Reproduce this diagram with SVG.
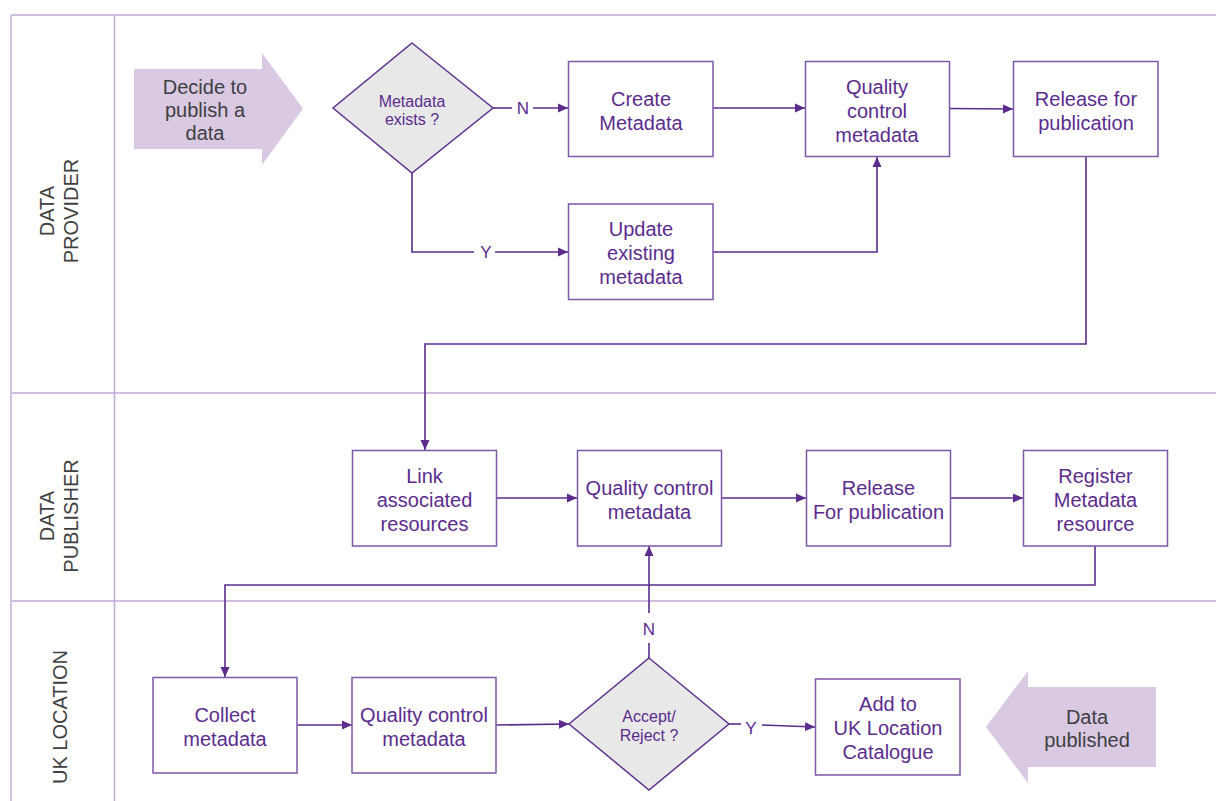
<svg xmlns="http://www.w3.org/2000/svg" width="1216" height="801" viewBox="0 0 1216 801">
<defs>
<marker id="ah" viewBox="0 0 10 10" refX="10" refY="5" markerWidth="10" markerHeight="10" markerUnits="userSpaceOnUse" orient="auto">
<path d="M0,0.5 L10,5 L0,9.5 Z" fill="#5b2c8e"/>
</marker>
<style>
.lane{stroke:#c2aad8;stroke-width:1.5;fill:none}
.box{fill:#fff;stroke:#7d57a8;stroke-width:1.5}
.dia{fill:#e8e8e8;stroke:#5f3290;stroke-width:1.5}
.con{fill:none;stroke:#5b2c8e;stroke-width:1.6}
.arw{fill:none;stroke:#5b2c8e;stroke-width:1.6;marker-end:url(#ah)}
.t{font-family:"Liberation Sans",Arial,sans-serif;font-size:20px;fill:#5b2c8e;text-anchor:middle}
.ts{font-family:"Liberation Sans",Arial,sans-serif;font-size:16px;fill:#5b2c8e;text-anchor:middle}
.tl{font-family:"Liberation Sans",Arial,sans-serif;font-size:17px;fill:#5b2c8e;text-anchor:middle}
.g{font-family:"Liberation Sans",Arial,sans-serif;font-size:20px;fill:#404040;text-anchor:middle}
.big{fill:#d9c9e3}
</style>
</defs>
<g id="lanes">
<line class="lane" x1="11" y1="15" x2="1216" y2="15"/>
<line class="lane" x1="11" y1="393" x2="1216" y2="393"/>
<line class="lane" x1="11" y1="601" x2="1216" y2="601"/>
<line x1="11" y1="15" x2="11" y2="801" stroke="#d3c3e3" stroke-width="2"/>
<line class="lane" x1="114.5" y1="15" x2="114.5" y2="801"/>
<text class="g" transform="rotate(-90)" x="-211" y="54">DATA</text>
<text class="g" transform="rotate(-90)" x="-211" y="78">PROVIDER</text>
<text class="g" transform="rotate(-90)" x="-516" y="54">DATA</text>
<text class="g" transform="rotate(-90)" x="-516" y="78">PUBLISHER</text>
<text class="g" transform="rotate(-90)" x="-717" y="67">UK LOCATION</text>
</g>
<g id="connectors">
<line class="con" x1="493" y1="108" x2="512" y2="108"/>
<line class="arw" x1="533" y1="108" x2="568" y2="108"/>
<text class="tl" x="523" y="114">N</text>
<line class="arw" x1="713" y1="108" x2="805" y2="108"/>
<line class="arw" x1="949" y1="108.5" x2="1013" y2="109"/>
<polyline class="con" points="412,173 412,252 474,252"/>
<text class="tl" x="486" y="258">Y</text>
<line class="arw" x1="495" y1="252" x2="568" y2="252"/>
<polyline class="arw" points="713,252 877,252 877,157"/>
<polyline class="arw" points="1086,157 1086,344 425,344 425,450"/>
<line class="arw" x1="497" y1="498" x2="577" y2="498"/>
<line class="arw" x1="721" y1="498" x2="806" y2="498"/>
<line class="arw" x1="950" y1="498" x2="1023" y2="498"/>
<polyline class="arw" points="1095,546 1095,585 225,585 225,677"/>
<line class="arw" x1="297" y1="725" x2="352" y2="725"/>
<line class="arw" x1="496" y1="725" x2="569" y2="724"/>
<line class="con" x1="729" y1="724" x2="741" y2="724"/>
<text class="tl" x="751" y="734">Y</text>
<line class="arw" x1="762" y1="725" x2="815" y2="727"/>
<line class="con" x1="649" y1="658" x2="649" y2="643"/>
<text class="tl" x="649" y="635">N</text>
<line class="arw" x1="649" y1="613" x2="649" y2="546"/>
</g>
<g id="start">
<path class="big" d="M134,69 H262 V53 L303,108.5 L262,165 V149 H134 Z"/>
<text class="g" x="205" y="94">Decide to</text>
<text class="g" x="205" y="117">publish a</text>
<text class="g" x="205" y="140">data</text>
</g>
<g id="metadata-exists">
<polygon class="dia" points="412,43 493,108 412,173 333,108"/>
<text class="ts" x="412" y="107">Metadata</text>
<text class="ts" x="412" y="125">exists ?</text>
</g>
<g id="create-metadata">
<rect class="box" x="568.5" y="61.5" width="144.5" height="95"/>
<text class="t" x="641" y="106">Create</text>
<text class="t" x="641" y="130">Metadata</text>
</g>
<g id="qc-provider">
<rect class="box" x="805.5" y="61.5" width="144" height="95"/>
<text class="t" x="877" y="94">Quality</text>
<text class="t" x="877" y="118">control</text>
<text class="t" x="877" y="142">metadata</text>
</g>
<g id="release-provider">
<rect class="box" x="1013.5" y="61.5" width="144.5" height="95"/>
<text class="t" x="1086" y="106">Release for</text>
<text class="t" x="1086" y="130">publication</text>
</g>
<g id="update-metadata">
<rect class="box" x="568.5" y="204" width="144.5" height="95.5"/>
<text class="t" x="641" y="236">Update</text>
<text class="t" x="641" y="260">existing</text>
<text class="t" x="641" y="284">metadata</text>
</g>
<g id="link-resources">
<rect class="box" x="352.5" y="450.5" width="144" height="95.5"/>
<text class="t" x="424.5" y="483">Link</text>
<text class="t" x="424.5" y="507">associated</text>
<text class="t" x="424.5" y="531">resources</text>
</g>
<g id="qc-publisher">
<rect class="box" x="577.5" y="450.5" width="144" height="95.5"/>
<text class="t" x="649.5" y="495">Quality control</text>
<text class="t" x="649.5" y="519">metadata</text>
</g>
<g id="release-publisher">
<rect class="box" x="806.5" y="450.5" width="144" height="95.5"/>
<text class="t" x="878.5" y="495">Release</text>
<text class="t" x="878.5" y="519">For publication</text>
</g>
<g id="register-resource">
<rect class="box" x="1023.5" y="450.5" width="144" height="95.5"/>
<text class="t" x="1095.5" y="483">Register</text>
<text class="t" x="1095.5" y="507">Metadata</text>
<text class="t" x="1095.5" y="531">resource</text>
</g>
<g id="collect-metadata">
<rect class="box" x="153" y="677.5" width="144" height="95.5"/>
<text class="t" x="225" y="722">Collect</text>
<text class="t" x="225" y="746">metadata</text>
</g>
<g id="qc-ukl">
<rect class="box" x="352" y="677.5" width="144" height="95.5"/>
<text class="t" x="424" y="722">Quality control</text>
<text class="t" x="424" y="746">metadata</text>
</g>
<g id="accept-reject">
<polygon class="dia" points="649,658 729,724 649,790 569,724"/>
<text class="ts" x="649" y="722">Accept/</text>
<text class="ts" x="649" y="741">Reject ?</text>
</g>
<g id="add-catalogue">
<rect class="box" x="815.5" y="679" width="144.5" height="96"/>
<text class="t" x="888" y="711">Add to</text>
<text class="t" x="888" y="735">UK Location</text>
<text class="t" x="888" y="759">Catalogue</text>
</g>
<g id="end">
<path class="big" d="M1156,687 H1028 V671 L986,727 L1028,783 V767 H1156 Z"/>
<text class="g" x="1087" y="724">Data</text>
<text class="g" x="1087" y="747">published</text>
</g>
</svg>
